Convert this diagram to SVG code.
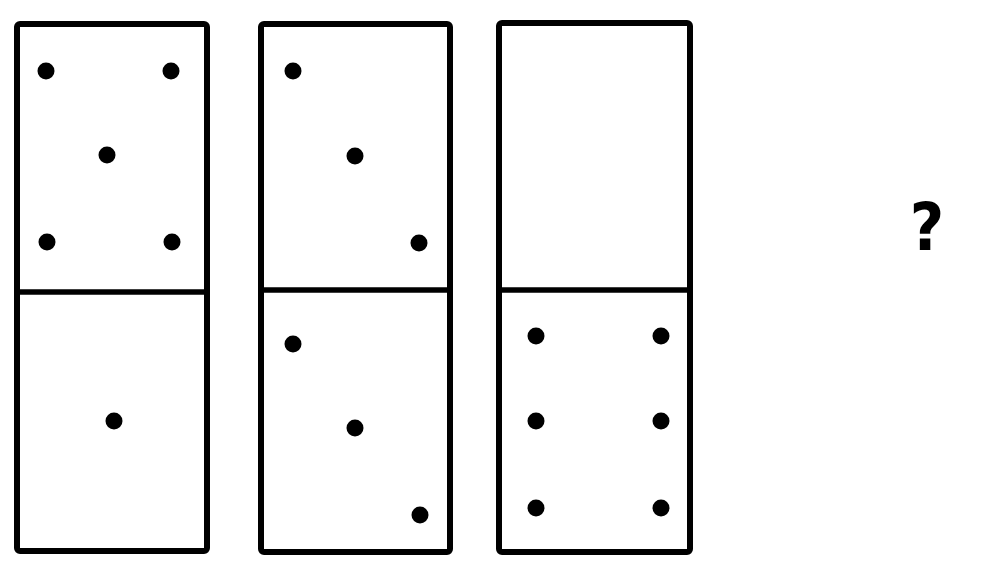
<svg xmlns="http://www.w3.org/2000/svg" width="999" height="572" viewBox="0 0 999 572">
<style>
.box{fill:#fff;stroke:#000;stroke-width:6;stroke-linejoin:round}
.div{stroke:#000;stroke-width:5.5}
.dot{fill:#000}
.q{font-family:"DejaVu Sans Condensed","DejaVu Sans",sans-serif;font-weight:bold;font-size:66px;fill:#000;text-anchor:middle}
</style>
<rect width="999" height="572" fill="#fff"/>
<g id="domino1">
<rect class="box" x="17" y="24" width="190" height="527" rx="3"/>
<line class="div" x1="17" y1="292" x2="207" y2="292"/>
<circle class="dot" cx="46" cy="71" r="8.5"/>
<circle class="dot" cx="171" cy="71" r="8.5"/>
<circle class="dot" cx="107" cy="155" r="8.5"/>
<circle class="dot" cx="47" cy="242" r="8.5"/>
<circle class="dot" cx="172" cy="242" r="8.5"/>
<circle class="dot" cx="114" cy="421" r="8.5"/>
</g>
<g id="domino2">
<rect class="box" x="261" y="24" width="189" height="528" rx="3"/>
<line class="div" x1="261" y1="290" x2="450" y2="290"/>
<circle class="dot" cx="293" cy="71" r="8.5"/>
<circle class="dot" cx="355" cy="156" r="8.5"/>
<circle class="dot" cx="419" cy="243" r="8.5"/>
<circle class="dot" cx="293" cy="344" r="8.5"/>
<circle class="dot" cx="355" cy="428" r="8.5"/>
<circle class="dot" cx="420" cy="515" r="8.5"/>
</g>
<g id="domino3">
<rect class="box" x="499" y="23" width="191" height="529" rx="3"/>
<line class="div" x1="499" y1="290" x2="690" y2="290"/>
<circle class="dot" cx="536" cy="336" r="8.5"/>
<circle class="dot" cx="661" cy="336" r="8.5"/>
<circle class="dot" cx="536" cy="421" r="8.5"/>
<circle class="dot" cx="661" cy="421" r="8.5"/>
<circle class="dot" cx="536" cy="508" r="8.5"/>
<circle class="dot" cx="661" cy="508" r="8.5"/>
</g>
<g id="question">
<text class="q" x="927" y="250">?</text>
</g>
<g id="connectors"></g>
</svg>
